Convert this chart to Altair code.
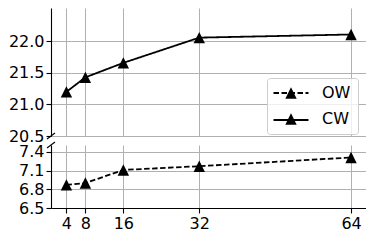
import altair as alt
import pandas as pd

# ---- data ----
x_vals = [4, 8, 16, 32, 64]
cw_vals = [21.20, 21.43, 21.66, 22.06, 22.11]
ow_vals = [6.87, 6.90, 7.11, 7.17, 7.31]
series_names = ["OW", "CW"]
top_ticks = [20.5, 21.0, 21.5, 22.0]
bottom_ticks = [6.5, 6.8, 7.1, 7.4]

df_cw = pd.DataFrame({"x": x_vals, "y": cw_vals, "series": "CW"})
df_cw["series2"] = df_cw["series"]
df_ow = pd.DataFrame({"x": x_vals, "y": ow_vals, "series": "OW"})
df_ow["series2"] = df_ow["series"]

TRI = "M0,-1L1,1L-1,1Z"
W = 315
H_TOP = 128
H_BOT = 63

dash_scale = alt.Scale(domain=series_names, range=[[5.5, 2.5], [1, 0]])
# reversed order keeps the two legends from being merged
shape_scale = alt.Scale(domain=series_names[::-1], range=[TRI, TRI])
x_scale = alt.Scale(domain=[0.75, 67.15], nice=False, zero=False)

LEG_X = 216
LEG_Y = 70

# box + visible labels + triangles
shape_legend = alt.Legend(
    title=None, orient="none", legendX=LEG_X, legendY=LEG_Y,
    values=series_names, zindex=0,
    symbolSize=130, symbolFillColor="black", symbolStrokeWidth=0,
    symbolOffset=9, padding=7, rowPadding=10, labelOffset=23,
    strokeColor="#cccccc", fillColor="#ffffffcc", cornerRadius=3,
)
# line symbols only, drawn over the same rows
line_legend = alt.Legend(
    title=None, orient="none", legendX=LEG_X + 5.5, legendY=LEG_Y - 3.5,
    symbolType="stroke", symbolSize=1225, symbolStrokeWidth=2, zindex=1,
    symbolStrokeColor="black", padding=0, rowPadding=-11, labelOffset=4,
    labelColor="transparent",
)

# ---- top panel (CW) ----
xt = alt.X("x:Q", scale=x_scale,
           axis=alt.Axis(values=x_vals, labels=False, ticks=False, domain=False,
                         grid=True, title=None))
yt = alt.Y("y:Q", scale=alt.Scale(domain=[20.5, 22.53], nice=False, zero=False),
           axis=alt.Axis(values=top_ticks, format=".1f", title=None, grid=True))

top_line = alt.Chart(df_cw).mark_line(color="black", strokeWidth=1.8).encode(
    x=xt, y=yt,
    strokeDash=alt.StrokeDash("series:N", scale=dash_scale, legend=line_legend),
)
top_pts = alt.Chart(df_cw).mark_point(filled=True, color="black", size=130, opacity=1).encode(
    x=xt, y=yt,
    shape=alt.Shape("series2:N", scale=shape_scale, legend=shape_legend),
)
brk_top = alt.Chart(pd.DataFrame({"a": [0]})).mark_rule(color="black", strokeWidth=1.1).encode(
    x=alt.value(-4), x2=alt.value(4), y=alt.value(H_TOP + 3), y2=alt.value(H_TOP - 3)
)
top = alt.layer(top_line, top_pts, brk_top).properties(width=W, height=H_TOP)

# ---- bottom panel (OW) ----
xb = alt.X("x:Q", scale=x_scale,
           axis=alt.Axis(values=x_vals, format="d", labelAngle=0, grid=True, title=None))
yb = alt.Y("y:Q", scale=alt.Scale(domain=[6.5, 7.51], nice=False, zero=False),
           axis=alt.Axis(values=bottom_ticks, format=".1f", title=None, grid=True))

bot_line = alt.Chart(df_ow).mark_line(color="black", strokeWidth=1.8).encode(
    x=xb, y=yb,
    strokeDash=alt.StrokeDash("series:N", scale=dash_scale, legend=None),
)
bot_pts = alt.Chart(df_ow).mark_point(filled=True, color="black", size=130, opacity=1).encode(
    x=xb, y=yb,
    shape=alt.Shape("series2:N", scale=shape_scale, legend=None),
)
brk_bot = alt.Chart(pd.DataFrame({"a": [0]})).mark_rule(color="black", strokeWidth=1.1).encode(
    x=alt.value(-4), x2=alt.value(4), y=alt.value(3), y2=alt.value(-3)
)
bottom = alt.layer(bot_line, bot_pts, brk_bot).properties(width=W, height=H_BOT)

chart = (
    alt.vconcat(top, bottom, spacing=9, bounds="flush")
    .resolve_scale(strokeDash="independent", shape="independent")
    .resolve_legend(strokeDash="independent", shape="independent")
    .properties(padding={"left": 0, "top": 0, "right": 0, "bottom": 0})
    .configure_view(stroke=None)
    .configure_axis(
        labelFont="DejaVu Sans", labelFontSize=16, labelColor="black",
        tickColor="black", domainColor="black", tickSize=5, labelPadding=2,
        gridColor="#b0b0b0", gridWidth=1, domainWidth=1.1, tickWidth=1.1,
    )
    .configure_legend(labelFont="DejaVu Sans", labelFontSize=16, labelColor="black")
)

chart.save("out.html", embed_options={"renderer": "svg", "actions": False})
